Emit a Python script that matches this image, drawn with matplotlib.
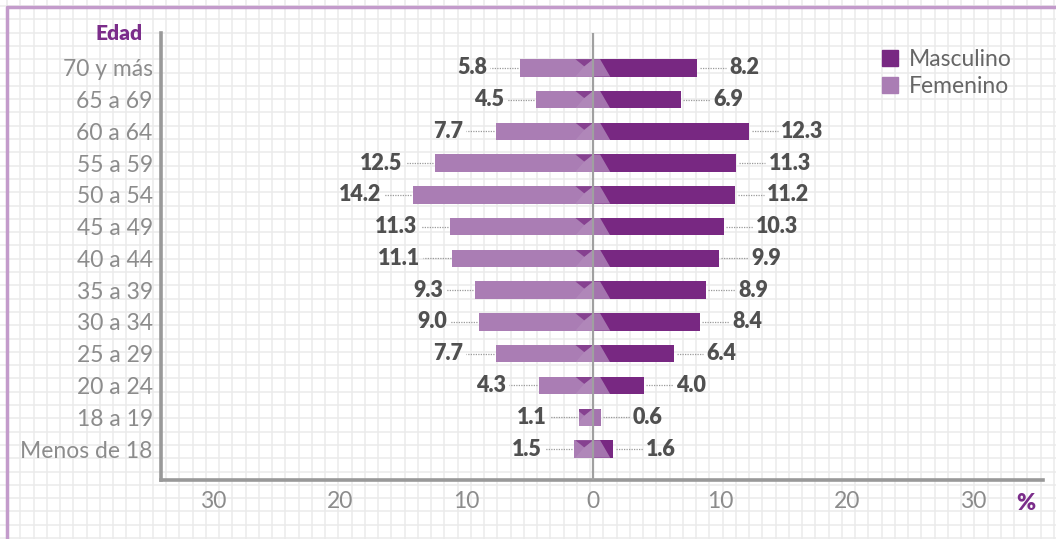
import numpy as np
import matplotlib
matplotlib.use("Agg")
import matplotlib.pyplot as plt
from matplotlib.patches import Patch, Polygon

# data (bottom to top)
edades = ['Menos de 18', '18 a 19', '20 a 24', '25 a 29', '30 a 34', '35 a 39',
          '40 a 44', '45 a 49', '50 a 54', '55 a 59', '60 a 64', '65 a 69', '70 y más']
masculino = [1.6, 0.6, 4.0, 6.4, 8.4, 8.9, 9.9, 10.3, 11.2, 11.3, 12.3, 6.9, 8.2]
femenino = [1.5, 1.1, 4.3, 7.7, 9.0, 9.3, 11.1, 11.3, 14.2, 12.5, 7.7, 4.5, 5.8]
xticks = [-30, -20, -10, 0, 10, 20, 30]
xtick_labels = ['30', '20', '10', '0', '10', '20', '30']

c_masc = '#782882'
c_fem = '#aa7db4'
c_text = '#8c8c8c'
c_val = '#505050'
c_purple = '#7b2d8a'

plt.rcParams['font.family'] = ['Lato', 'DejaVu Sans']

W, H = 1056, 539
fig = plt.figure(figsize=(W / 100, H / 100), dpi=100)

# grid paper background + border
bg = fig.add_axes([0, 0, 1, 1], zorder=-10)
bg.set_xlim(0, W)
bg.set_ylim(H, 0)
bg.axis('off')
for gx in np.arange(7, W, 13.25):
    bg.axvline(gx, color='#ebebeb', lw=1.1)
for gy in np.arange(6, H, 13.3):
    bg.axhline(gy, color='#ebebeb', lw=1.1)
bg.plot([7, 7, W], [H, 7, 7], color='#c39bcb', lw=2.5, solid_capstyle='butt')

ax = fig.add_axes([161 / W, 1 - 480 / H, (1043 - 161) / W, (480 - 33) / H])
ax.patch.set_alpha(0)

y = np.arange(len(edades))
h = 0.55
bars_f = ax.barh(y, [-v for v in femenino], height=h, color=c_fem, zorder=2)
bars_m = ax.barh(y, masculino, height=h, color=c_masc, zorder=2)

# little folded-ribbon shapes near zero
for i in range(len(edades)):
    top, bot, mid = y[i] + h / 2, y[i] - h / 2, y[i] + 0.05
    tri = Polygon([(-1.4, top), (0, top), (-0.7, mid)], closed=True,
                  color=c_masc, alpha=0.7, lw=0, zorder=3)
    ax.add_patch(tri)
    tri.set_clip_path(bars_f[i])
    low = Polygon([(-1.4, bot), (-0.7, mid), (0, top), (0, bot)], closed=True,
                  color='white', alpha=0.08, lw=0, zorder=3)
    ax.add_patch(low)
    low.set_clip_path(bars_f[i])
    wedge = Polygon([(0, top), (0.55, top), (1.35, bot), (0, bot)], closed=True,
                    color=c_fem, alpha=0.9, lw=0, zorder=3)
    ax.add_patch(wedge)
    wedge.set_clip_path(bars_m[i])

ax.axvline(0, color='#a0a0a0', lw=1.6, zorder=4)

# value labels with dotted leaders
for i in range(len(edades)):
    f, m = femenino[i], masculino[i]
    ax.plot([-(f + 0.15), -(f + 2.3)], [y[i], y[i]], ls=(0, (1, 1)),
            color='#9a9a9a', lw=0.9, zorder=1)
    ax.text(-(f + 2.55), y[i], f'{f:.1f}', ha='right', va='center',
            fontsize=15.5, fontweight='heavy', color=c_val)
    ax.plot([m + 0.2, m + 2.3], [y[i], y[i]], ls=(0, (1, 1)),
            color='#9a9a9a', lw=0.9, zorder=1)
    ax.text(m + 2.55, y[i], f'{m:.1f}', ha='left', va='center',
            fontsize=15.5, fontweight='heavy', color=c_val)

ax.set_xlim(-34.1, 35.5)
ax.set_ylim(-0.976, 13.1)
ax.set_yticks(y)
ax.set_yticklabels(edades, fontsize=16.5, color=c_text)
ax.set_xticks(xticks)
ax.set_xticklabels(xtick_labels, fontsize=16.5, color=c_text)
ax.tick_params(length=0, pad=6)
ax.tick_params(axis='x', pad=8)
for s in ['top', 'right']:
    ax.spines[s].set_visible(False)
for s in ['left', 'bottom']:
    ax.spines[s].set_color('#999999')
    ax.spines[s].set_linewidth(2.6)

fig.text(143 / W, 1 - 33 / H, 'Edad', ha='right', va='center',
         fontsize=15, fontweight='heavy', color=c_purple)
fig.text(1026 / W, 1 - 503 / H, '%', ha='center', va='center',
         fontsize=16.5, fontweight='heavy', color=c_purple)

handles = [Patch(color=c_masc, label='Masculino'), Patch(color=c_fem, label='Femenino')]
leg = fig.legend(handles=handles, loc='upper left', bbox_to_anchor=(873 / W, 1 - 40 / H),
                 frameon=False, fontsize=16.5, handlelength=0.7, handleheight=0.7,
                 handletextpad=0.45, labelspacing=0.25, borderaxespad=0)
for t in leg.get_texts():
    t.set_color('#666666')

fig.savefig('out.png', dpi=100)
